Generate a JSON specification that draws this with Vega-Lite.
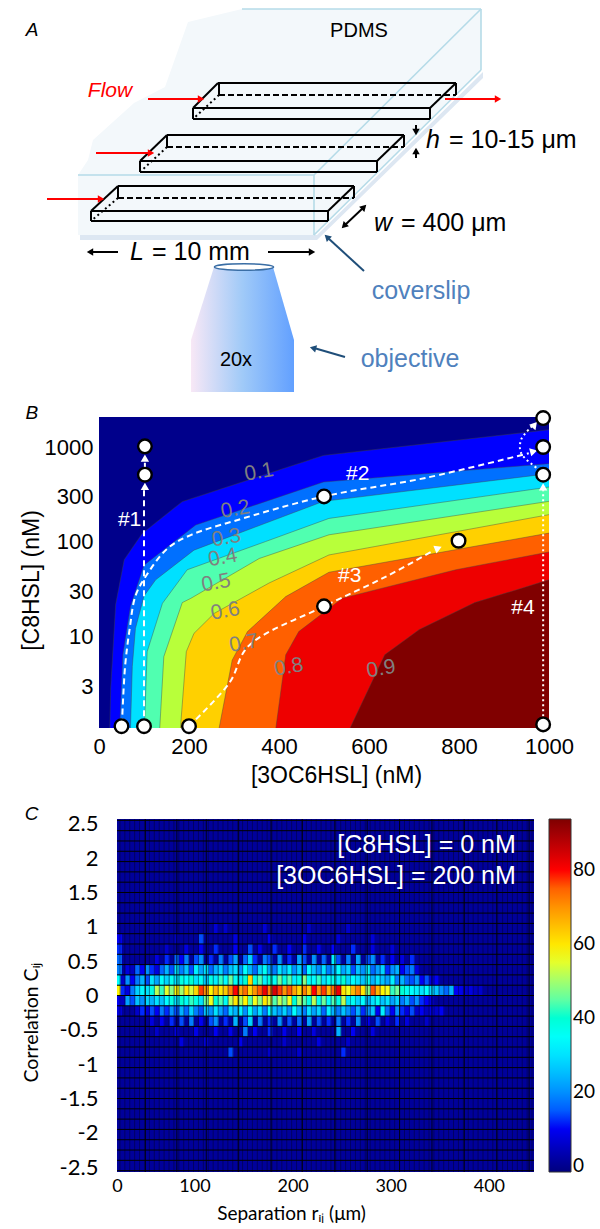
{"$schema":"https://vega.github.io/schema/vega-lite/v6.json","padding":0,"spacing":0,"bounds":"flush","config":{"view":{"stroke":null},"font":"Liberation Sans"},"resolve":{"scale":{"color":"independent","x":"independent","y":"independent"}},
"datasets":{"contours":[
{"l":"b1","x":24,"y":1.1},{"l":"b1","x":26,"y":2.9},{"l":"b1","x":37,"y":22},{"l":"b1","x":56,"y":65},{"l":"b1","x":96,"y":123},{"l":"b1","x":185,"y":266},{"l":"b1","x":499,"y":816},{"l":"b1","x":1000,"y":1520},
{"l":"b2","x":46,"y":1.1},{"l":"b2","x":53,"y":6.5},{"l":"b2","x":70,"y":21},{"l":"b2","x":100,"y":57},{"l":"b2","x":215,"y":151},{"l":"b2","x":499,"y":428},{"l":"b2","x":1000,"y":668},
{"l":"b3","x":70,"y":1.1},{"l":"b3","x":74,"y":4.9},{"l":"b3","x":81,"y":12.3},{"l":"b3","x":100,"y":27},{"l":"b3","x":126,"y":40},{"l":"b3","x":211,"y":82},{"l":"b3","x":499,"y":268},{"l":"b3","x":1000,"y":524},
{"l":"b4","x":101,"y":1.1},{"l":"b4","x":107,"y":7},{"l":"b4","x":141,"y":22.6},{"l":"b4","x":196,"y":51},{"l":"b4","x":370,"y":101},{"l":"b4","x":511,"y":177},{"l":"b4","x":1000,"y":379},
{"l":"b5","x":135,"y":1.1},{"l":"b5","x":144,"y":6.2},{"l":"b5","x":185,"y":23},{"l":"b5","x":204,"y":25.5},{"l":"b5","x":356,"y":67},{"l":"b5","x":511,"y":119},{"l":"b5","x":1000,"y":268},
{"l":"b6","x":181,"y":1.1},{"l":"b6","x":194,"y":7},{"l":"b6","x":211,"y":10.9},{"l":"b6","x":256,"y":17.7},{"l":"b6","x":378,"y":37},{"l":"b6","x":511,"y":73},{"l":"b6","x":1000,"y":194},
{"l":"b7","x":267,"y":1.1},{"l":"b7","x":296,"y":5.7},{"l":"b7","x":330,"y":11.4},{"l":"b7","x":415,"y":26.6},{"l":"b7","x":511,"y":48},{"l":"b7","x":1000,"y":124},
{"l":"b8","x":393,"y":1.1},{"l":"b8","x":415,"y":6.5},{"l":"b8","x":444,"y":11.4},{"l":"b8","x":541,"y":25.6},{"l":"b8","x":793,"y":51},{"l":"b8","x":1000,"y":78.5},
{"l":"b9","x":558,"y":1.1},{"l":"b9","x":635,"y":6.5},{"l":"b9","x":712,"y":12},{"l":"b9","x":835,"y":23},{"l":"b9","x":1000,"y":40}]},
"vconcat":[
{"width":600,"height":417,
"encoding":{"x":{"field":"x","type":"quantitative","scale":{"domain":[0,600],"nice":false,"zero":false},"axis":null},"y":{"field":"y","type":"quantitative","scale":{"domain":[417,0],"nice":false,"zero":false},"axis":null}},
"layer":[
{"data":{"values":[{"x":75,"y":175,"y2":235},{"x":85,"y":160,"y2":235},{"x":90,"y":140,"y2":235},{"x":131,"y":103,"y2":235},{"x":162,"y":87,"y2":235},{"x":185,"y":22,"y2":235},{"x":239,"y":9,"y2":235},{"x":311,"y":9,"y2":235},{"x":478,"y":9,"y2":70}]},"mark":{"type":"area","color":"#f3f8fb"},"encoding":{"y2":{"field":"y2"}}},
{"data":{"values":[{"x":77,"y":235,"y2":240},{"x":314,"y":235,"y2":240},{"x":480,"y":72,"y2":78}]},"mark":{"type":"area","color":"#dde7f2"},"encoding":{"y2":{"field":"y2"}}},
{"data":{"values":[{"x":239,"y":9,"x2":478,"y2":9},{"x":478,"y":9,"x2":478,"y2":70},{"x":478,"y":9,"x2":311,"y2":175},{"x":311,"y":175,"x2":75,"y2":175},{"x":311,"y":175,"x2":311,"y2":235},{"x":311,"y":235,"x2":478,"y2":70}]},"mark":{"type":"rule","color":"#b5dbe8","strokeWidth":1.6},"encoding":{"x2":{"field":"x2"},"y2":{"field":"y2"}}},
{"data":{"values":[{"x":190,"y":108,"x2":427,"y2":108},{"x":427,"y":108,"x2":453,"y2":83},{"x":453,"y":83,"x2":215,"y2":83},{"x":215,"y":83,"x2":190,"y2":108},{"x":190,"y":108,"x2":190,"y2":119},{"x":190,"y":119,"x2":427,"y2":119},{"x":427,"y":119,"x2":427,"y2":108},{"x":453,"y":83,"x2":453,"y2":95},{"x":216,"y":83,"x2":216,"y2":95},
{"x":137,"y":161,"x2":374,"y2":161},{"x":374,"y":161,"x2":401,"y2":135},{"x":401,"y":135,"x2":164,"y2":135},{"x":164,"y":135,"x2":137,"y2":161},{"x":137,"y":161,"x2":137,"y2":172},{"x":137,"y":172,"x2":374,"y2":172},{"x":374,"y":172,"x2":374,"y2":161},{"x":401,"y":135,"x2":401,"y2":147},{"x":164,"y":135,"x2":164,"y2":147},
{"x":88,"y":211,"x2":325,"y2":211},{"x":325,"y":211,"x2":351,"y2":186},{"x":351,"y":186,"x2":115,"y2":186},{"x":115,"y":186,"x2":88,"y2":211},{"x":88,"y":211,"x2":88,"y2":221},{"x":88,"y":221,"x2":325,"y2":221},{"x":325,"y":221,"x2":325,"y2":211},{"x":351,"y":186,"x2":351,"y2":198},{"x":115,"y":186,"x2":115,"y2":198}]},"mark":{"type":"rule","color":"#000","strokeWidth":2},"encoding":{"x2":{"field":"x2"},"y2":{"field":"y2"}}},
{"data":{"values":[{"x":216,"y":95,"x2":453,"y2":95},{"x":164,"y":147,"x2":401,"y2":147},{"x":115,"y":198,"x2":351,"y2":198}]},"mark":{"type":"rule","color":"#000","strokeWidth":2,"strokeDash":[6,3]},"encoding":{"x2":{"field":"x2"},"y2":{"field":"y2"}}},
{"data":{"values":[{"x":216,"y":95,"x2":190,"y2":119},{"x":164,"y":147,"x2":137,"y2":172},{"x":115,"y":198,"x2":88,"y2":221}]},"mark":{"type":"rule","color":"#000","strokeWidth":2,"strokeDash":[2,3]},"encoding":{"x2":{"field":"x2"},"y2":{"field":"y2"}}},
{"data":{"values":[{"k":"flow","x":145,"y":99,"x2":198,"y2":99},{"k":"flow","x":442,"y":99,"x2":495,"y2":99},{"k":"flow","x":93,"y":153,"x2":148,"y2":153},{"k":"flow","x":44,"y":199,"x2":98,"y2":199},{"k":"dim","x":413,"y":125,"x2":413,"y2":131},{"k":"dim","x":413,"y":158,"x2":413,"y2":152},{"k":"dim","x":342,"y":225,"x2":360,"y2":208},{"k":"dim","x":88,"y":252,"x2":115,"y2":252},{"k":"dim","x":265,"y":252,"x2":308,"y2":252},{"k":"note","x":361,"y":271,"x2":325,"y2":238},{"k":"note","x":342,"y":357,"x2":311,"y2":348}]},"mark":{"type":"rule","strokeWidth":2},"encoding":{"x2":{"field":"x2"},"y2":{"field":"y2"},"color":{"field":"k","type":"nominal","scale":{"domain":["flow","dim","note"],"range":["#ff0000","#000000","#1f4e79"]},"legend":null}}},
{"data":{"values":[{"k":"flow","x":198,"y":99,"a":90},{"k":"flow","x":495,"y":99,"a":90},{"k":"flow","x":148,"y":153,"a":90},{"k":"flow","x":98,"y":199,"a":90},{"k":"dim","x":413,"y":132,"a":180},{"k":"dim","x":413,"y":151,"a":0},{"k":"dim","x":361,"y":207,"a":45},{"k":"dim","x":341,"y":226,"a":225},{"k":"dim","x":87,"y":252,"a":270},{"k":"dim","x":309,"y":252,"a":90},{"k":"note","x":324,"y":237,"a":313},{"k":"note","x":310,"y":348,"a":285}]},"mark":{"type":"point","shape":"triangle-up","filled":true,"size":55,"opacity":1},"encoding":{"color":{"field":"k","type":"nominal","scale":{"domain":["flow","dim","note"],"range":["#ff0000","#000000","#1f4e79"]},"legend":null},"angle":{"field":"a","type":"quantitative","scale":{"domain":[0,360],"range":[0,360]},"legend":null}}},
{"data":{"values":[{"x":188,"y":340,"y2":392},{"x":211,"y":267,"y2":392},{"x":270,"y":267,"y2":392},{"x":291,"y":340,"y2":392}]},"mark":{"type":"area","fill":{"x1":0,"y1":0,"x2":1,"y2":0,"gradient":"linear","stops":[{"offset":0,"color":"#f8e8f6"},{"offset":0.5,"color":"#a0caf8"},{"offset":1,"color":"#62a0ff"}]}},"encoding":{"y2":{"field":"y2"}}},
{"data":{"values":[{"x":241,"y":267}]},"mark":{"type":"point","shape":"M-1,0A1,0.11 0 1,0 1,0A1,0.11 0 1,0 -1,0Z","size":3500,"stroke":"#3a6ea5","strokeWidth":1.5,"fill":"#ffffff","opacity":1}},
{"data":{"values":[{"x":423,"y":140,"t":"h"},{"x":371,"y":223,"t":"w"},{"x":127,"y":252,"t":"L"}]},"mark":{"type":"text","fontSize":25,"fontStyle":"italic","align":"left","baseline":"middle"},"encoding":{"text":{"field":"t"}}},
{"data":{"values":[{"x":446,"y":140,"t":"= 10-15 μm"},{"x":398,"y":223,"t":"= 400 μm"},{"x":149,"y":252,"t":"= 10 mm"}]},"mark":{"type":"text","fontSize":25,"align":"left","baseline":"middle"},"encoding":{"text":{"field":"t"}}},
{"data":{"values":[{"x":356,"y":31,"t":"PDMS"},{"x":233,"y":360,"t":"20x"}]},"mark":{"type":"text","fontSize":20,"baseline":"middle"},"encoding":{"text":{"field":"t"}}},
{"data":{"values":[{"x":29,"y":30,"t":"A"}]},"mark":{"type":"text","fontSize":19,"fontStyle":"italic","baseline":"middle"},"encoding":{"text":{"field":"t"}}},
{"data":{"values":[{"x":107,"y":91,"t":"Flow"}]},"mark":{"type":"text","fontSize":21,"fontStyle":"italic","color":"#ff0000","baseline":"middle"},"encoding":{"text":{"field":"t"}}},
{"data":{"values":[{"x":418,"y":291,"t":"coverslip"},{"x":407,"y":359,"t":"objective"}]},"mark":{"type":"text","fontSize":25,"color":"#4f81bd","baseline":"middle"},"encoding":{"text":{"field":"t"}}}
]},
{"width":600,"height":311,
"encoding":{"x":{"field":"x","type":"quantitative","title":"[3OC6HSL]  (nM)","scale":{"domain":[0,1000],"range":[96,546],"nice":false,"zero":false},"axis":{"values":[0,200,400,600,800,1000],"format":"d","grid":false,"domain":false,"tickColor":"#fff","tickSize":-4,"labelFontSize":22,"labelPadding":12,"titleFontSize":23,"titleFontWeight":"normal","titleX":333,"titleY":36,"labelColor":"#000","labelFlush":false}},
"y":{"field":"y","type":"quantitative","stack":null,"title":"[C8HSL]  (nM)","scale":{"type":"log","domain":[1.1,2070],"nice":false},"axis":{"offset":-96,"values":[2,3,4,5,6,7,8,9,10,20,30,40,50,60,70,80,90,100,200,300,400,500,600,700,800,900,1000,2000],"labelExpr":"indexof([3,10,30,100,300,1000],datum.value)>=0?''+datum.value:''","labelOverlap":false,"grid":false,"domain":false,"tickColor":"#fff","tickSize":-4,"labelFontSize":22,"labelPadding":10,"titleFontSize":23,"titleFontWeight":"normal","titleX":-56,"titleY":163}}},
"layer":[
{"data":{"values":[{"x":0,"y":1.1,"x2":1000,"y2":2070}]},"mark":{"type":"rect","color":"#00008b"},"encoding":{"x2":{"field":"x2"},"y2":{"field":"y2"}}},
{"data":{"name":"contours"},"mark":{"type":"area"},"encoding":{"y2":{"datum":1.1},"color":{"field":"l","type":"nominal","scale":{"domain":["b1","b2","b3","b4","b5","b6","b7","b8","b9"],"range":["#0000ff","#0070ff","#00e0ff","#50ffb0","#b8ff3a","#ffd000","#ff6000","#ee0000","#800000"]},"legend":null}}},
{"data":{"name":"contours"},"mark":{"type":"line","color":"#444444","strokeWidth":0.6,"opacity":0.7},"encoding":{"detail":{"field":"l"}}},
{"data":{"values":[{"p":"a","i":1,"x":100,"y":1.15},{"p":"a","i":2,"x":100,"y":360},{"p":"b","i":1,"x":102,"y":590},{"p":"b","i":2,"x":102,"y":740},
{"p":"c","i":1,"x":51,"y":1.2},{"p":"c","i":2,"x":58,"y":4.9},{"p":"c","i":3,"x":68,"y":12},{"p":"c","i":4,"x":81,"y":27},{"p":"c","i":5,"x":104,"y":43.5},{"p":"c","i":6,"x":153,"y":86},{"p":"c","i":7,"x":205,"y":119},{"p":"c","i":8,"x":298,"y":165},{"p":"c","i":9,"x":500,"y":302},{"p":"c","i":10,"x":725,"y":472},{"p":"c","i":11,"x":955,"y":860},
{"p":"d","i":1,"x":200,"y":1.15},{"p":"d","i":2,"x":290,"y":3.3},{"p":"d","i":3,"x":332,"y":8},{"p":"d","i":4,"x":500,"y":21},{"p":"d","i":5,"x":639,"y":43.5},{"p":"d","i":6,"x":745,"y":82}]},"mark":{"type":"line","color":"#fff","strokeWidth":2,"strokeDash":[6,4],"interpolate":"catmull-rom"},"encoding":{"detail":{"field":"p"},"order":{"field":"i"}}},
{"data":{"values":[{"p":"e","i":1,"x":987,"y":1.15},{"p":"e","i":2,"x":987,"y":350},{"p":"f","i":1,"x":987,"y":511},{"p":"f","i":2,"x":976,"y":580},{"p":"f","i":3,"x":938,"y":865},{"p":"f","i":4,"x":938,"y":1195},{"p":"f","i":5,"x":962,"y":1650}]},"mark":{"type":"line","color":"#fff","strokeWidth":2,"strokeDash":[2,3],"interpolate":"catmull-rom"},"encoding":{"detail":{"field":"p"},"order":{"field":"i"}}},
{"data":{"values":[{"x":102,"y":385,"a":0},{"x":102,"y":765,"a":0},{"x":966,"y":900,"a":75},{"x":754,"y":86,"a":68},{"x":987,"y":380,"a":0},{"x":968,"y":1718,"a":40}]},"mark":{"type":"point","shape":"triangle-up","filled":true,"color":"#fff","size":70,"opacity":1},"encoding":{"angle":{"field":"a","type":"quantitative","scale":{"domain":[0,360],"range":[0,360]},"legend":null}}},
{"data":{"values":[{"x":50,"y":1.15},{"x":100,"y":1.15},{"x":200,"y":1.15},{"x":987,"y":1.2},{"x":799,"y":103},{"x":500,"y":21},{"x":500,"y":302},{"x":102,"y":511},{"x":102,"y":1016},{"x":987,"y":511},{"x":987,"y":1000},{"x":987,"y":2018}]},"mark":{"type":"point","shape":"circle","filled":true,"fill":"#fff","stroke":"#000","strokeWidth":2.4,"size":185,"opacity":1}},
{"data":{"values":[{"x":356,"y":541,"t":"0.1"},{"x":303,"y":219,"t":"0.2"},{"x":283,"y":110,"t":"0.3"},{"x":275,"y":68,"t":"0.4"},{"x":260,"y":37,"t":"0.5"},{"x":281,"y":18.6,"t":"0.6"},{"x":322,"y":8.5,"t":"0.7"},{"x":422,"y":4.8,"t":"0.8"},{"x":627,"y":4.6,"t":"0.9"}]},"mark":{"type":"text","fontSize":21,"color":"#808080","angle":350,"baseline":"middle"},"encoding":{"text":{"field":"t"}}},
{"data":{"values":[{"x":68,"y":172,"t":"#1"},{"x":575,"y":520,"t":"#2"},{"x":557,"y":44,"t":"#3"},{"x":942,"y":20,"t":"#4"}]},"mark":{"type":"text","fontSize":21,"color":"#fff","baseline":"middle"},"encoding":{"text":{"field":"t"}}},
{"data":{"values":[{"x":-149,"y":2300,"t":"B"}]},"mark":{"type":"text","fontSize":19,"fontStyle":"italic","baseline":"middle"},"encoding":{"text":{"field":"t"}}}
]},
{"width":1,"height":91,"data":{"values":[{"a":1}]},"mark":{"type":"point","opacity":0}},
{"width":600,"height":353,
"encoding":{"x":{"field":"x","type":"quantitative","title":"Separation  rᵢⱼ (μm)","scale":{"domain":[21,446],"range":[114,531],"nice":false,"zero":false},"axis":{"values":[21,100,200,300,400],"labelExpr":"datum.value<50?'0':''+datum.value","grid":false,"domain":false,"ticks":false,"labelFont":"Lato","labelFontSize":18,"labelPadding":5,"labelFlush":false,"titleFont":"Lato","titleFontSize":19,"titleFontWeight":"normal","titleX":288,"titleY":32}},
"y":{"field":"y","type":"quantitative","title":"Correlation  Cᵢⱼ","scale":{"domain":[-2.57,2.57],"nice":false,"zero":false},"axis":{"offset":-114,"values":[-2.5,-2,-1.5,-1,-0.5,0,0.5,1,1.5,2,2.5],"labelExpr":"''+datum.value","grid":false,"domain":false,"ticks":false,"labelFont":"Lato","labelFontSize":22,"labelPadding":19,"titleFont":"Lato","titleFontSize":19.5,"titleFontWeight":"normal","titleX":-76,"titleY":203}}},
"layer":[
{"data":{"values":[{"x":21,"y":-2.57,"x2":446,"y2":2.57}]},"mark":{"type":"rect","color":"#00009a"},"encoding":{"x2":{"field":"x2"},"y2":{"field":"y2"}}},
{"data":{"values":[
{"x":23.5,"y":0.075,"v":58},{"x":23.5,"y":0.225,"v":34},{"x":23.5,"y":0.375,"v":18},{"x":23.5,"y":0.525,"v":16},{"x":23.5,"y":0.675,"v":12},{"x":23.5,"y":0.825,"v":10},{"x":23.5,"y":-0.075,"v":10},{"x":23.5,"y":-0.225,"v":8},
{"x":27,"y":0.075,"v":12},{"x":32,"y":0.075,"v":8},{"x":37,"y":0.075,"v":18},{"x":42,"y":0.075,"v":28},{"x":47,"y":0.075,"v":33},{"x":52,"y":0.075,"v":30},{"x":57,"y":0.075,"v":38},{"x":62,"y":0.075,"v":52},{"x":67,"y":0.075,"v":42},{"x":72,"y":0.075,"v":55},{"x":77,"y":0.075,"v":48},{"x":82,"y":0.075,"v":58},{"x":87,"y":0.075,"v":50},{"x":92,"y":0.075,"v":60},{"x":97,"y":0.075,"v":54},{"x":102,"y":0.075,"v":62},{"x":107,"y":0.075,"v":78},{"x":112,"y":0.075,"v":70},{"x":117,"y":0.075,"v":58},{"x":122,"y":0.075,"v":66},{"x":127,"y":0.075,"v":60},{"x":132,"y":0.075,"v":64},{"x":137,"y":0.075,"v":72},{"x":142,"y":0.075,"v":80},{"x":147,"y":0.075,"v":68},{"x":152,"y":0.075,"v":74},{"x":157,"y":0.075,"v":62},{"x":162,"y":0.075,"v":70},{"x":167,"y":0.075,"v":76},{"x":172,"y":0.075,"v":82},{"x":177,"y":0.075,"v":72},{"x":182,"y":0.075,"v":84},{"x":187,"y":0.075,"v":78},{"x":192,"y":0.075,"v":70},{"x":197,"y":0.075,"v":76},{"x":202,"y":0.075,"v":68},{"x":207,"y":0.075,"v":62},{"x":212,"y":0.075,"v":72},{"x":217,"y":0.075,"v":64},{"x":222,"y":0.075,"v":80},{"x":227,"y":0.075,"v":70},{"x":232,"y":0.075,"v":78},{"x":237,"y":0.075,"v":66},{"x":242,"y":0.075,"v":74},{"x":247,"y":0.075,"v":82},{"x":252,"y":0.075,"v":60},{"x":257,"y":0.075,"v":56},{"x":262,"y":0.075,"v":66},{"x":267,"y":0.075,"v":72},{"x":272,"y":0.075,"v":60},{"x":277,"y":0.075,"v":48},{"x":282,"y":0.075,"v":76},{"x":287,"y":0.075,"v":66},{"x":292,"y":0.075,"v":58},{"x":297,"y":0.075,"v":56},{"x":302,"y":0.075,"v":42},{"x":307,"y":0.075,"v":46},{"x":312,"y":0.075,"v":40},{"x":317,"y":0.075,"v":36},{"x":322,"y":0.075,"v":34},{"x":327,"y":0.075,"v":32},{"x":332,"y":0.075,"v":30},{"x":337,"y":0.075,"v":34},{"x":342,"y":0.075,"v":28},{"x":347,"y":0.075,"v":26},{"x":352,"y":0.075,"v":20},{"x":357,"y":0.075,"v":16},{"x":362,"y":0.075,"v":24},{"x":367,"y":0.075,"v":10},{"x":372,"y":0.075,"v":9},{"x":377,"y":0.075,"v":6},{"x":382,"y":0.075,"v":8},{"x":387,"y":0.075,"v":5},{"x":392,"y":0.075,"v":6},
{"x":27,"y":0.225,"v":6},{"x":32,"y":0.225,"v":20},{"x":37,"y":0.225,"v":10},{"x":42,"y":0.225,"v":18},{"x":47,"y":0.225,"v":24},{"x":52,"y":0.225,"v":14},{"x":57,"y":0.225,"v":30},{"x":62,"y":0.225,"v":22},{"x":67,"y":0.225,"v":34},{"x":72,"y":0.225,"v":28},{"x":77,"y":0.225,"v":36},{"x":82,"y":0.225,"v":30},{"x":87,"y":0.225,"v":38},{"x":92,"y":0.225,"v":34},{"x":97,"y":0.225,"v":40},{"x":102,"y":0.225,"v":30},{"x":107,"y":0.225,"v":36},{"x":112,"y":0.225,"v":26},{"x":117,"y":0.225,"v":38},{"x":122,"y":0.225,"v":32},{"x":127,"y":0.225,"v":42},{"x":132,"y":0.225,"v":34},{"x":137,"y":0.225,"v":46},{"x":142,"y":0.225,"v":36},{"x":147,"y":0.225,"v":30},{"x":152,"y":0.225,"v":40},{"x":157,"y":0.225,"v":62},{"x":162,"y":0.225,"v":38},{"x":167,"y":0.225,"v":44},{"x":172,"y":0.225,"v":32},{"x":177,"y":0.225,"v":40},{"x":182,"y":0.225,"v":36},{"x":187,"y":0.225,"v":46},{"x":192,"y":0.225,"v":38},{"x":197,"y":0.225,"v":44},{"x":202,"y":0.225,"v":32},{"x":207,"y":0.225,"v":38},{"x":212,"y":0.225,"v":48},{"x":217,"y":0.225,"v":36},{"x":222,"y":0.225,"v":34},{"x":227,"y":0.225,"v":42},{"x":232,"y":0.225,"v":30},{"x":237,"y":0.225,"v":36},{"x":242,"y":0.225,"v":38},{"x":247,"y":0.225,"v":32},{"x":252,"y":0.225,"v":40},{"x":257,"y":0.225,"v":28},{"x":262,"y":0.225,"v":34},{"x":267,"y":0.225,"v":30},{"x":272,"y":0.225,"v":26},{"x":277,"y":0.225,"v":36},{"x":282,"y":0.225,"v":24},{"x":287,"y":0.225,"v":30},{"x":292,"y":0.225,"v":26},{"x":297,"y":0.225,"v":22},{"x":302,"y":0.225,"v":32},{"x":307,"y":0.225,"v":18},{"x":312,"y":0.225,"v":24},{"x":317,"y":0.225,"v":16},{"x":322,"y":0.225,"v":14},{"x":327,"y":0.225,"v":20},{"x":332,"y":0.225,"v":10},{"x":337,"y":0.225,"v":14},{"x":342,"y":0.225,"v":8},{"x":347,"y":0.225,"v":10},
{"x":27,"y":-0.075,"v":5},{"x":32,"y":-0.075,"v":22},{"x":37,"y":-0.075,"v":14},{"x":42,"y":-0.075,"v":26},{"x":47,"y":-0.075,"v":20},{"x":52,"y":-0.075,"v":28},{"x":57,"y":-0.075,"v":24},{"x":62,"y":-0.075,"v":30},{"x":67,"y":-0.075,"v":26},{"x":72,"y":-0.075,"v":34},{"x":77,"y":-0.075,"v":38},{"x":82,"y":-0.075,"v":30},{"x":87,"y":-0.075,"v":40},{"x":92,"y":-0.075,"v":36},{"x":97,"y":-0.075,"v":42},{"x":102,"y":-0.075,"v":38},{"x":107,"y":-0.075,"v":30},{"x":112,"y":-0.075,"v":46},{"x":117,"y":-0.075,"v":56},{"x":122,"y":-0.075,"v":40},{"x":127,"y":-0.075,"v":44},{"x":132,"y":-0.075,"v":36},{"x":137,"y":-0.075,"v":52},{"x":142,"y":-0.075,"v":60},{"x":147,"y":-0.075,"v":50},{"x":152,"y":-0.075,"v":58},{"x":157,"y":-0.075,"v":44},{"x":162,"y":-0.075,"v":56},{"x":167,"y":-0.075,"v":48},{"x":172,"y":-0.075,"v":60},{"x":177,"y":-0.075,"v":54},{"x":182,"y":-0.075,"v":44},{"x":187,"y":-0.075,"v":52},{"x":192,"y":-0.075,"v":46},{"x":197,"y":-0.075,"v":56},{"x":202,"y":-0.075,"v":40},{"x":207,"y":-0.075,"v":50},{"x":212,"y":-0.075,"v":44},{"x":217,"y":-0.075,"v":38},{"x":222,"y":-0.075,"v":52},{"x":227,"y":-0.075,"v":36},{"x":232,"y":-0.075,"v":46},{"x":237,"y":-0.075,"v":34},{"x":242,"y":-0.075,"v":44},{"x":247,"y":-0.075,"v":38},{"x":252,"y":-0.075,"v":52},{"x":257,"y":-0.075,"v":30},{"x":262,"y":-0.075,"v":36},{"x":267,"y":-0.075,"v":28},{"x":272,"y":-0.075,"v":34},{"x":277,"y":-0.075,"v":24},{"x":282,"y":-0.075,"v":30},{"x":287,"y":-0.075,"v":36},{"x":292,"y":-0.075,"v":26},{"x":297,"y":-0.075,"v":30},{"x":302,"y":-0.075,"v":22},{"x":307,"y":-0.075,"v":28},{"x":312,"y":-0.075,"v":18},{"x":317,"y":-0.075,"v":24},{"x":322,"y":-0.075,"v":14},{"x":327,"y":-0.075,"v":20},{"x":332,"y":-0.075,"v":12},{"x":337,"y":-0.075,"v":10},{"x":342,"y":-0.075,"v":8},
{"x":32,"y":0.375,"v":8},{"x":37,"y":0.375,"v":5},{"x":42,"y":0.375,"v":16},{"x":47,"y":0.375,"v":10},{"x":52,"y":0.375,"v":20},{"x":57,"y":0.375,"v":12},{"x":62,"y":0.375,"v":8},{"x":67,"y":0.375,"v":16},{"x":72,"y":0.375,"v":24},{"x":77,"y":0.375,"v":14},{"x":82,"y":0.375,"v":30},{"x":87,"y":0.375,"v":18},{"x":92,"y":0.375,"v":26},{"x":97,"y":0.375,"v":14},{"x":102,"y":0.375,"v":32},{"x":107,"y":0.375,"v":22},{"x":112,"y":0.375,"v":30},{"x":117,"y":0.375,"v":16},{"x":122,"y":0.375,"v":24},{"x":127,"y":0.375,"v":28},{"x":132,"y":0.375,"v":18},{"x":137,"y":0.375,"v":26},{"x":142,"y":0.375,"v":30},{"x":147,"y":0.375,"v":20},{"x":152,"y":0.375,"v":34},{"x":157,"y":0.375,"v":24},{"x":162,"y":0.375,"v":16},{"x":167,"y":0.375,"v":28},{"x":172,"y":0.375,"v":36},{"x":177,"y":0.375,"v":22},{"x":182,"y":0.375,"v":18},{"x":187,"y":0.375,"v":30},{"x":192,"y":0.375,"v":24},{"x":197,"y":0.375,"v":32},{"x":202,"y":0.375,"v":20},{"x":207,"y":0.375,"v":28},{"x":212,"y":0.375,"v":16},{"x":217,"y":0.375,"v":34},{"x":222,"y":0.375,"v":26},{"x":227,"y":0.375,"v":20},{"x":232,"y":0.375,"v":30},{"x":237,"y":0.375,"v":18},{"x":242,"y":0.375,"v":24},{"x":247,"y":0.375,"v":34},{"x":252,"y":0.375,"v":22},{"x":257,"y":0.375,"v":28},{"x":262,"y":0.375,"v":14},{"x":267,"y":0.375,"v":26},{"x":272,"y":0.375,"v":20},{"x":277,"y":0.375,"v":32},{"x":282,"y":0.375,"v":16},{"x":287,"y":0.375,"v":22},{"x":292,"y":0.375,"v":28},{"x":297,"y":0.375,"v":12},{"x":302,"y":0.375,"v":20},{"x":307,"y":0.375,"v":24},{"x":312,"y":0.375,"v":10},{"x":317,"y":0.375,"v":14},{"x":322,"y":0.375,"v":18},{"x":327,"y":0.375,"v":8},
{"x":42,"y":-0.225,"v":6},{"x":47,"y":-0.225,"v":12},{"x":52,"y":-0.225,"v":8},{"x":57,"y":-0.225,"v":14},{"x":62,"y":-0.225,"v":10},{"x":67,"y":-0.225,"v":18},{"x":72,"y":-0.225,"v":12},{"x":77,"y":-0.225,"v":20},{"x":82,"y":-0.225,"v":14},{"x":87,"y":-0.225,"v":24},{"x":92,"y":-0.225,"v":16},{"x":97,"y":-0.225,"v":28},{"x":102,"y":-0.225,"v":18},{"x":107,"y":-0.225,"v":14},{"x":112,"y":-0.225,"v":26},{"x":117,"y":-0.225,"v":20},{"x":122,"y":-0.225,"v":30},{"x":127,"y":-0.225,"v":22},{"x":132,"y":-0.225,"v":16},{"x":137,"y":-0.225,"v":28},{"x":142,"y":-0.225,"v":24},{"x":147,"y":-0.225,"v":32},{"x":152,"y":-0.225,"v":20},{"x":157,"y":-0.225,"v":36},{"x":162,"y":-0.225,"v":22},{"x":167,"y":-0.225,"v":30},{"x":172,"y":-0.225,"v":18},{"x":177,"y":-0.225,"v":34},{"x":182,"y":-0.225,"v":26},{"x":187,"y":-0.225,"v":22},{"x":192,"y":-0.225,"v":28},{"x":197,"y":-0.225,"v":20},{"x":202,"y":-0.225,"v":34},{"x":207,"y":-0.225,"v":24},{"x":212,"y":-0.225,"v":18},{"x":217,"y":-0.225,"v":30},{"x":222,"y":-0.225,"v":22},{"x":227,"y":-0.225,"v":28},{"x":232,"y":-0.225,"v":16},{"x":237,"y":-0.225,"v":32},{"x":242,"y":-0.225,"v":24},{"x":247,"y":-0.225,"v":18},{"x":252,"y":-0.225,"v":26},{"x":257,"y":-0.225,"v":20},{"x":262,"y":-0.225,"v":14},{"x":267,"y":-0.225,"v":24},{"x":272,"y":-0.225,"v":12},{"x":277,"y":-0.225,"v":20},{"x":282,"y":-0.225,"v":26},{"x":287,"y":-0.225,"v":10},{"x":292,"y":-0.225,"v":32},{"x":297,"y":-0.225,"v":16},{"x":302,"y":-0.225,"v":10},{"x":307,"y":-0.225,"v":20},{"x":312,"y":-0.225,"v":12},{"x":317,"y":-0.225,"v":8},{"x":322,"y":-0.225,"v":14},{"x":327,"y":-0.225,"v":6},{"x":332,"y":-0.225,"v":10},{"x":337,"y":-0.225,"v":5},{"x":342,"y":-0.225,"v":8},{"x":347,"y":-0.225,"v":6},{"x":352,"y":-0.225,"v":10},
{"x":62,"y":0.525,"v":8},{"x":72,"y":0.525,"v":12},{"x":82,"y":0.525,"v":16},{"x":87,"y":0.525,"v":10},{"x":92,"y":0.525,"v":18},{"x":102,"y":0.525,"v":14},{"x":107,"y":0.525,"v":20},{"x":117,"y":0.525,"v":12},{"x":127,"y":0.525,"v":18},{"x":137,"y":0.525,"v":14},{"x":142,"y":0.525,"v":22},{"x":152,"y":0.525,"v":16},{"x":157,"y":0.525,"v":28},{"x":162,"y":0.525,"v":12},{"x":172,"y":0.525,"v":18},{"x":177,"y":0.525,"v":14},{"x":187,"y":0.525,"v":20},{"x":197,"y":0.525,"v":12},{"x":207,"y":0.525,"v":22},{"x":212,"y":0.525,"v":14},{"x":222,"y":0.525,"v":20},{"x":232,"y":0.525,"v":16},{"x":242,"y":0.525,"v":32},{"x":247,"y":0.525,"v":14},{"x":257,"y":0.525,"v":18},{"x":267,"y":0.525,"v":22},{"x":277,"y":0.525,"v":14},{"x":282,"y":0.525,"v":20},{"x":292,"y":0.525,"v":12},{"x":302,"y":0.525,"v":10},{"x":312,"y":0.525,"v":8},{"x":322,"y":0.525,"v":12},
{"x":57,"y":-0.375,"v":8},{"x":67,"y":-0.375,"v":10},{"x":77,"y":-0.375,"v":12},{"x":87,"y":-0.375,"v":14},{"x":97,"y":-0.375,"v":18},{"x":107,"y":-0.375,"v":10},{"x":117,"y":-0.375,"v":14},{"x":122,"y":-0.375,"v":20},{"x":132,"y":-0.375,"v":12},{"x":142,"y":-0.375,"v":24},{"x":152,"y":-0.375,"v":14},{"x":157,"y":-0.375,"v":28},{"x":167,"y":-0.375,"v":18},{"x":177,"y":-0.375,"v":12},{"x":187,"y":-0.375,"v":20},{"x":197,"y":-0.375,"v":14},{"x":207,"y":-0.375,"v":16},{"x":217,"y":-0.375,"v":22},{"x":227,"y":-0.375,"v":14},{"x":237,"y":-0.375,"v":12},{"x":247,"y":-0.375,"v":18},{"x":257,"y":-0.375,"v":12},{"x":267,"y":-0.375,"v":20},{"x":277,"y":-0.375,"v":10},{"x":287,"y":-0.375,"v":14},{"x":297,"y":-0.375,"v":8},{"x":307,"y":-0.375,"v":12},{"x":317,"y":-0.375,"v":8},{"x":337,"y":-0.375,"v":6},
{"x":72,"y":0.675,"v":6},{"x":92,"y":0.675,"v":8},{"x":107,"y":0.675,"v":10},{"x":122,"y":0.675,"v":12},{"x":142,"y":0.675,"v":10},{"x":157,"y":0.675,"v":14},{"x":167,"y":0.675,"v":9},{"x":182,"y":0.675,"v":12},{"x":197,"y":0.675,"v":10},{"x":212,"y":0.675,"v":12},{"x":227,"y":0.675,"v":9},{"x":242,"y":0.675,"v":11},{"x":262,"y":0.675,"v":12},{"x":282,"y":0.675,"v":8},{"x":302,"y":0.675,"v":7},
{"x":62,"y":-0.525,"v":6},{"x":82,"y":-0.525,"v":8},{"x":102,"y":-0.525,"v":9},{"x":122,"y":-0.525,"v":10},{"x":137,"y":-0.525,"v":9},{"x":152,"y":-0.525,"v":18},{"x":162,"y":-0.525,"v":10},{"x":177,"y":-0.525,"v":12},{"x":192,"y":-0.525,"v":9},{"x":207,"y":-0.525,"v":10},{"x":222,"y":-0.525,"v":8},{"x":247,"y":-0.525,"v":24},{"x":262,"y":-0.525,"v":10},{"x":282,"y":-0.525,"v":8},
{"x":82,"y":0.825,"v":5},{"x":107,"y":0.825,"v":14},{"x":142,"y":0.825,"v":8},{"x":177,"y":0.825,"v":10},{"x":212,"y":0.825,"v":9},{"x":247,"y":0.825,"v":7},{"x":282,"y":0.825,"v":7},
{"x":87,"y":-0.675,"v":8},{"x":112,"y":-0.675,"v":7},{"x":147,"y":-0.675,"v":9},{"x":192,"y":-0.675,"v":6},{"x":227,"y":-0.675,"v":8},{"x":257,"y":-0.675,"v":6},
{"x":122,"y":0.975,"v":7},{"x":132,"y":0.975,"v":6},{"x":172,"y":0.975,"v":7},{"x":217,"y":0.975,"v":6},{"x":257,"y":0.975,"v":6},
{"x":137,"y":-0.825,"v":14},{"x":177,"y":-0.825,"v":6},{"x":207,"y":-0.825,"v":6},{"x":252,"y":-0.825,"v":12}
]},"mark":{"type":"rect","width":4.9,"height":10.3},"encoding":{"color":{"field":"v","type":"quantitative","scale":{"domain":[-1.6,11,34,57,80,93.8],"range":["#00007f","#0000ff","#00ffff","#ffff00","#ff0000","#7f0000"],"nice":false,"zero":false},"legend":{"title":null,"orient":"none","legendX":546,"legendY":0,"direction":"vertical","gradientLength":353,"gradientThickness":22,"values":[0,20,40,60,80],"labelFont":"Lato","labelFontSize":19,"gradientStrokeColor":"#333","gradientStrokeWidth":1,"labelOverlap":false}}}},
{"data":{"values":[{"x":24,"y":-2.57,"y2":2.57},{"x":29,"y":-2.57,"y2":2.57},{"x":34,"y":-2.57,"y2":2.57},{"x":39,"y":-2.57,"y2":2.57},{"x":44,"y":-2.57,"y2":2.57},{"x":49,"y":-2.57,"y2":2.57},{"x":54,"y":-2.57,"y2":2.57},{"x":59,"y":-2.57,"y2":2.57},{"x":64,"y":-2.57,"y2":2.57},{"x":69,"y":-2.57,"y2":2.57},{"x":74,"y":-2.57,"y2":2.57},{"x":79,"y":-2.57,"y2":2.57},{"x":84,"y":-2.57,"y2":2.57},{"x":89,"y":-2.57,"y2":2.57},{"x":94,"y":-2.57,"y2":2.57},{"x":99,"y":-2.57,"y2":2.57},{"x":104,"y":-2.57,"y2":2.57},{"x":109,"y":-2.57,"y2":2.57},{"x":114,"y":-2.57,"y2":2.57},{"x":119,"y":-2.57,"y2":2.57},{"x":124,"y":-2.57,"y2":2.57},{"x":129,"y":-2.57,"y2":2.57},{"x":134,"y":-2.57,"y2":2.57},{"x":139,"y":-2.57,"y2":2.57},{"x":144,"y":-2.57,"y2":2.57},{"x":149,"y":-2.57,"y2":2.57},{"x":154,"y":-2.57,"y2":2.57},{"x":159,"y":-2.57,"y2":2.57},{"x":164,"y":-2.57,"y2":2.57},{"x":169,"y":-2.57,"y2":2.57},{"x":174,"y":-2.57,"y2":2.57},{"x":179,"y":-2.57,"y2":2.57},{"x":184,"y":-2.57,"y2":2.57},{"x":189,"y":-2.57,"y2":2.57},{"x":194,"y":-2.57,"y2":2.57},{"x":199,"y":-2.57,"y2":2.57},{"x":204,"y":-2.57,"y2":2.57},{"x":209,"y":-2.57,"y2":2.57},{"x":214,"y":-2.57,"y2":2.57},{"x":219,"y":-2.57,"y2":2.57},{"x":224,"y":-2.57,"y2":2.57},{"x":229,"y":-2.57,"y2":2.57},{"x":234,"y":-2.57,"y2":2.57},{"x":239,"y":-2.57,"y2":2.57},{"x":244,"y":-2.57,"y2":2.57},{"x":249,"y":-2.57,"y2":2.57},{"x":254,"y":-2.57,"y2":2.57},{"x":259,"y":-2.57,"y2":2.57},{"x":264,"y":-2.57,"y2":2.57},{"x":269,"y":-2.57,"y2":2.57},{"x":274,"y":-2.57,"y2":2.57},{"x":279,"y":-2.57,"y2":2.57},{"x":284,"y":-2.57,"y2":2.57},{"x":289,"y":-2.57,"y2":2.57},{"x":294,"y":-2.57,"y2":2.57},{"x":299,"y":-2.57,"y2":2.57},{"x":304,"y":-2.57,"y2":2.57},{"x":309,"y":-2.57,"y2":2.57},{"x":314,"y":-2.57,"y2":2.57},{"x":319,"y":-2.57,"y2":2.57},{"x":324,"y":-2.57,"y2":2.57},{"x":329,"y":-2.57,"y2":2.57},{"x":334,"y":-2.57,"y2":2.57},{"x":339,"y":-2.57,"y2":2.57},{"x":344,"y":-2.57,"y2":2.57},{"x":349,"y":-2.57,"y2":2.57},{"x":354,"y":-2.57,"y2":2.57},{"x":359,"y":-2.57,"y2":2.57},{"x":364,"y":-2.57,"y2":2.57},{"x":369,"y":-2.57,"y2":2.57},{"x":374,"y":-2.57,"y2":2.57},{"x":379,"y":-2.57,"y2":2.57},{"x":384,"y":-2.57,"y2":2.57},{"x":389,"y":-2.57,"y2":2.57},{"x":394,"y":-2.57,"y2":2.57},{"x":399,"y":-2.57,"y2":2.57},{"x":404,"y":-2.57,"y2":2.57},{"x":409,"y":-2.57,"y2":2.57},{"x":414,"y":-2.57,"y2":2.57},{"x":419,"y":-2.57,"y2":2.57},{"x":424,"y":-2.57,"y2":2.57},{"x":429,"y":-2.57,"y2":2.57},{"x":434,"y":-2.57,"y2":2.57},{"x":439,"y":-2.57,"y2":2.57},{"x":444,"y":-2.57,"y2":2.57}]},"mark":{"type":"rule","color":"#000","opacity":0.35,"strokeWidth":1},"encoding":{"y2":{"field":"y2"}}},
{"data":{"values":[{"x":50,"y":-2.57,"y2":2.57},{"x":82,"y":-2.57,"y2":2.57},{"x":112,"y":-2.57,"y2":2.57},{"x":145,"y":-2.57,"y2":2.57},{"x":178,"y":-2.57,"y2":2.57},{"x":210,"y":-2.57,"y2":2.57},{"x":243,"y":-2.57,"y2":2.57},{"x":276,"y":-2.57,"y2":2.57},{"x":309,"y":-2.57,"y2":2.57},{"x":342,"y":-2.57,"y2":2.57},{"x":375,"y":-2.57,"y2":2.57},{"x":408,"y":-2.57,"y2":2.57},{"x":441,"y":-2.57,"y2":2.57}]},"mark":{"type":"rule","color":"#000","opacity":0.8,"strokeWidth":1},"encoding":{"y2":{"field":"y2"}}},
{"data":{"values":[{"y":-2.55,"x":21,"x2":446},{"y":-2.4,"x":21,"x2":446},{"y":-2.25,"x":21,"x2":446},{"y":-2.1,"x":21,"x2":446},{"y":-1.95,"x":21,"x2":446},{"y":-1.8,"x":21,"x2":446},{"y":-1.65,"x":21,"x2":446},{"y":-1.5,"x":21,"x2":446},{"y":-1.35,"x":21,"x2":446},{"y":-1.2,"x":21,"x2":446},{"y":-1.05,"x":21,"x2":446},{"y":-0.9,"x":21,"x2":446},{"y":-0.75,"x":21,"x2":446},{"y":-0.6,"x":21,"x2":446},{"y":-0.45,"x":21,"x2":446},{"y":-0.3,"x":21,"x2":446},{"y":-0.15,"x":21,"x2":446},{"y":0,"x":21,"x2":446},{"y":0.15,"x":21,"x2":446},{"y":0.3,"x":21,"x2":446},{"y":0.45,"x":21,"x2":446},{"y":0.6,"x":21,"x2":446},{"y":0.75,"x":21,"x2":446},{"y":0.9,"x":21,"x2":446},{"y":1.05,"x":21,"x2":446},{"y":1.2,"x":21,"x2":446},{"y":1.35,"x":21,"x2":446},{"y":1.5,"x":21,"x2":446},{"y":1.65,"x":21,"x2":446},{"y":1.8,"x":21,"x2":446},{"y":1.95,"x":21,"x2":446},{"y":2.1,"x":21,"x2":446},{"y":2.25,"x":21,"x2":446},{"y":2.4,"x":21,"x2":446},{"y":2.55,"x":21,"x2":446}]},"mark":{"type":"rule","color":"#000","strokeWidth":1},"encoding":{"x2":{"field":"x2"}}},
{"data":{"values":[{"x":427.5,"y":2.19,"t":"[C8HSL] = 0 nM"},{"x":427.5,"y":1.74,"t":"[3OC6HSL] = 200 nM"}]},"mark":{"type":"text","fontSize":25,"color":"#fff","align":"right","baseline":"middle"},"encoding":{"text":{"field":"t"}}},
{"data":{"values":[{"x":-66,"y":2.65,"t":"C"}]},"mark":{"type":"text","fontSize":19,"fontStyle":"italic","baseline":"middle"},"encoding":{"text":{"field":"t"}}}
]}
]}
